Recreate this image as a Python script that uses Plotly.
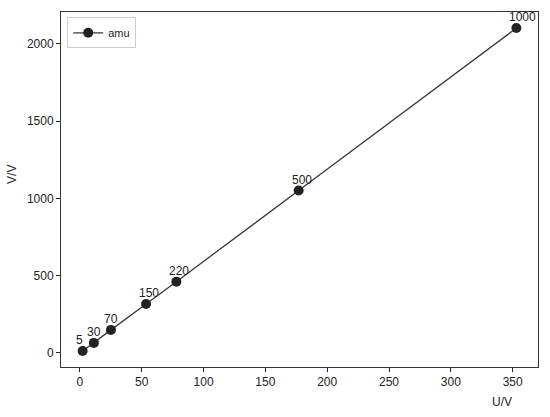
import plotly.graph_objects as go

U = [2.2, 11.3, 25.1, 53.5, 78.0, 176.9, 353.0]
V = [13, 65, 149, 317, 461, 1050, 2101]
labels = ["5", "30", "70", "150", "220", "500", "1000"]
series_name = "amu"
x_ticks = [0, 50, 100, 150, 200, 250, 300, 350]
y_ticks = [0, 500, 1000, 1500, 2000]

FONT = "Arial, Liberation Sans"

fig = go.Figure()
fig.add_trace(go.Scatter(
    x=U, y=V, mode="lines+markers", name=series_name,
    line=dict(color="#3a3a3a", width=1.3),
    marker=dict(color="#222222", size=10, line=dict(width=0)),
))

for xu, yv, t in zip(U, V, labels):
    fig.add_annotation(x=xu, y=yv, text=t, showarrow=False,
                       xanchor="left", yanchor="bottom", xshift=-9, yshift=2,
                       font=dict(family=FONT, size=12, color="#222"))

fig.add_annotation(xref="paper", yref="paper", x=0.9245, y=-0.072, text="U/V",
                   showarrow=False, xanchor="center", yanchor="top",
                   font=dict(family=FONT, size=12, color="#222"))
fig.add_annotation(xref="paper", yref="paper", x=-0.1027, y=0.541, text="V/V",
                   showarrow=False, xanchor="center", yanchor="middle", textangle=-90,
                   font=dict(family=FONT, size=12, color="#222"))

fig.update_xaxes(range=[-15.3, 370.5], tickvals=x_ticks, ticks="outside", ticklen=4,
                 tickcolor="#222", showline=True, mirror=True, linecolor="#333",
                 linewidth=1, showgrid=False, zeroline=False, automargin=False,
                 tickfont=dict(family=FONT, size=12, color="#222"))
fig.update_yaxes(range=[-91, 2205], tickvals=y_ticks, ticks="outside", ticklen=4,
                 tickcolor="#222", showline=True, mirror=True, linecolor="#333",
                 linewidth=1, showgrid=False, zeroline=False, automargin=False,
                 tickfont=dict(family=FONT, size=12, color="#222"))

fig.update_layout(
    width=550, height=417,
    margin=dict(l=61, r=12, t=12, b=50, autoexpand=False),
    plot_bgcolor="white", paper_bgcolor="white",
    showlegend=True,
    legend=dict(x=0.013, y=0.985, xanchor="left", yanchor="top",
                bgcolor="rgba(255,255,255,0.8)", bordercolor="#ccc", borderwidth=1,
                font=dict(family=FONT, size=11, color="#222")),
)

fig.write_html("out.html", config={"displayModeBar": False},
               post_script="document.body.style.margin='0';document.body.style.overflow='hidden';")
